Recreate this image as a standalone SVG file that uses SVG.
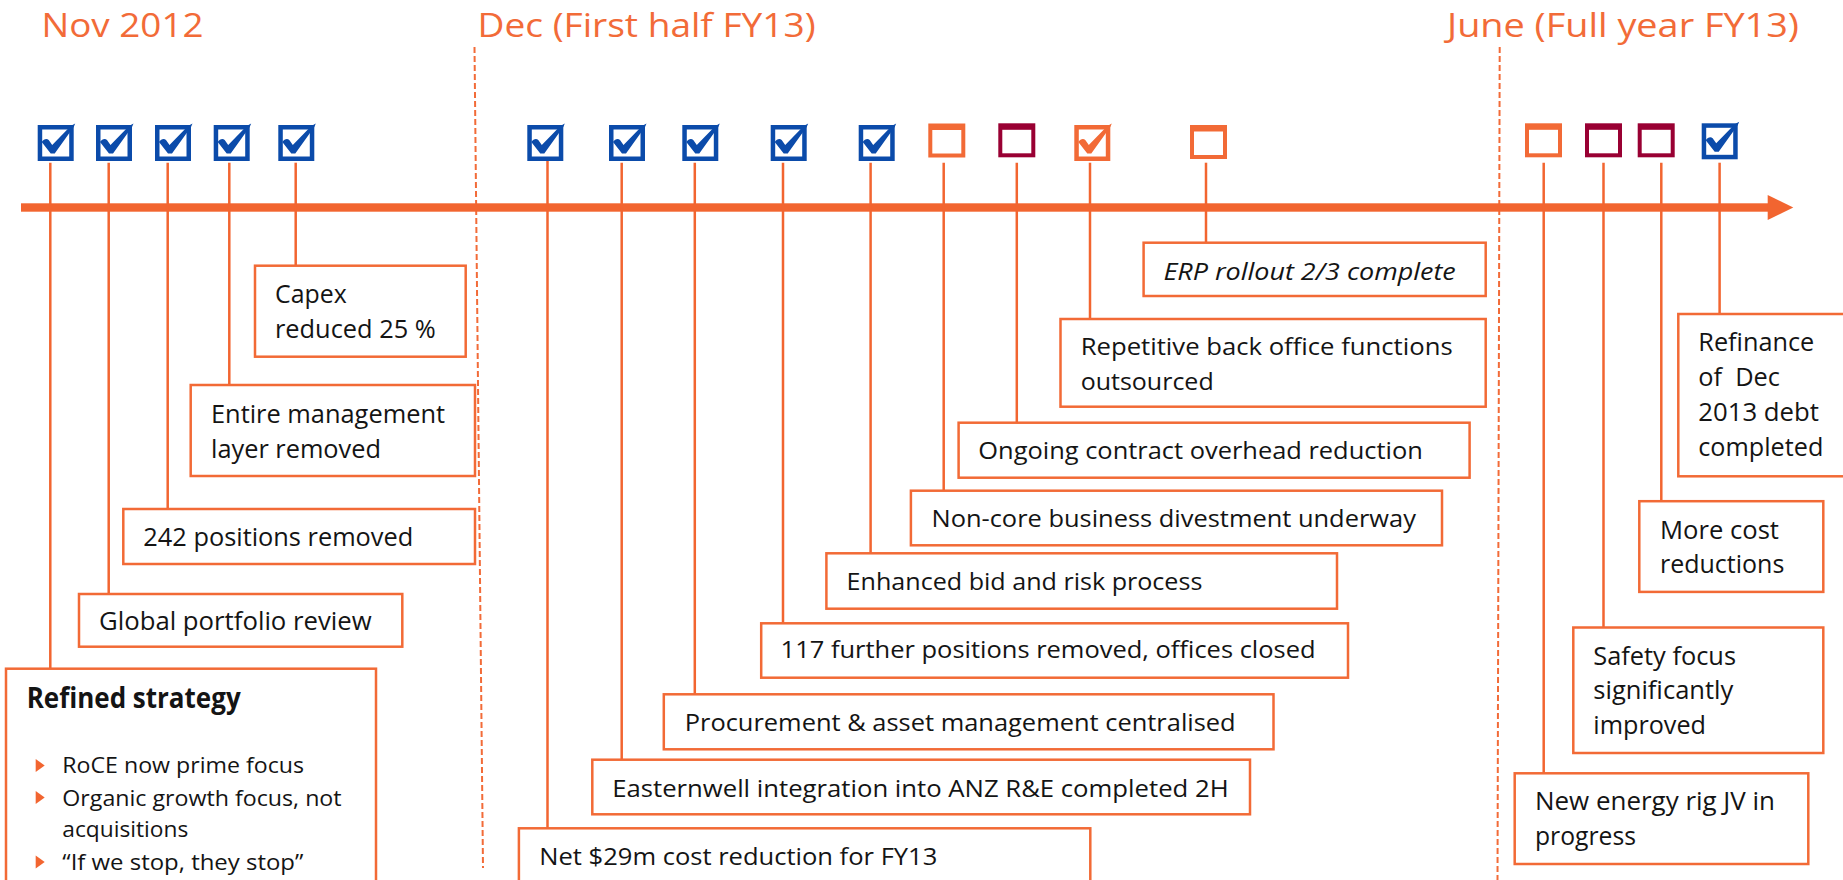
<svg xmlns="http://www.w3.org/2000/svg" xmlns:xlink="http://www.w3.org/1999/xlink" width="1843" height="880" viewBox="0 0 1843 880">
  <style>
    .title { font-family: "Open Sans", "Liberation Sans", sans-serif; font-size: 33px; fill: #F26B38; }
    .lbl { font-family: "Open Sans", "Liberation Sans", sans-serif; fill: #141414; }
    .l { font-size: 26px; }
    .m { font-size: 23px; }
    .r { font-size: 26px; }
    .b { font-size: 21px; }
    .h { font-size: 28px; font-weight: bold; }
    .it { font-style: italic; }
    .box { fill: #fff; stroke: #F26A36; stroke-width: 2.5; }
    .conn { stroke: #F26530; stroke-width: 2.5; fill: none; }
    .dash { stroke: #F26B38; stroke-width: 2; stroke-dasharray: 6 3; fill: none; }
    .bul { fill: #F26530; }
  </style>
  <defs>
    <!-- ticked checkbox, blue -->
    <g id="chk-blue">
      <rect x="2.25" y="2.25" width="31.5" height="31.5" fill="#fff" stroke="#0B4BAA" stroke-width="4.5"/>
      <path d="M4,17 C6,14 9,13 11,15 L14.5,20 L33,1 L37.5,-1.5 L36,2 L17,28.5 L13,28.5 Z" fill="#0B4BAA"/>
    </g>
    <!-- ticked checkbox, orange -->
    <g id="chk-orange">
      <rect x="2.25" y="2.25" width="31.5" height="31.5" fill="#fff" stroke="#F26A36" stroke-width="4.5"/>
      <path d="M4,17 C6,14 9,13 11,15 L14.5,20 L33,1 L37.5,-1.5 L36,2 L17,28.5 L13,28.5 Z" fill="#F26A36"/>
    </g>
    <!-- open checkbox, orange -->
    <g id="box-orange">
      <rect x="0" y="0" width="37" height="34" fill="#F26A36"/>
      <rect x="4" y="6.5" width="29" height="23.5" fill="#fff"/>
    </g>
    <!-- open checkbox, maroon -->
    <g id="box-maroon">
      <rect x="0" y="0" width="37" height="34" fill="#990033"/>
      <rect x="4" y="6.5" width="29" height="23.5" fill="#fff"/>
    </g>
    <path id="tri" d="M0,-6.5 L9,0 L0,6.5 Z"/>
  </defs>

  <rect width="1843" height="880" fill="#fff"/>

  <!-- period headings -->
  <g id="headings">
    <text class="title" x="41.5" y="37" textLength="162" lengthAdjust="spacingAndGlyphs">Nov 2012</text>
    <text class="title" x="477.6" y="37" textLength="338" lengthAdjust="spacingAndGlyphs">Dec (First half FY13)</text>
    <text class="title" x="1447" y="37" textLength="352" lengthAdjust="spacingAndGlyphs">June (Full year FY13)</text>
  </g>

  <!-- period dividers -->
  <g id="dividers">
    <line class="dash" x1="474.5" y1="47" x2="483" y2="868"/>
    <line class="dash" x1="1499.7" y1="47" x2="1497.5" y2="880"/>
  </g>

  <!-- timeline axis -->
  <g id="axis">
    <rect x="21" y="203.3" width="1748" height="8.4" fill="#F26530"/>
    <polygon points="1767.7,195 1793.3,207.5 1767.7,220" fill="#F26530"/>
  </g>

  <!-- connectors from milestones to labels -->
  <g id="connectors">
    <line class="conn" x1="50.3" y1="162.7" x2="50.3" y2="668.7"/>
    <line class="conn" x1="108.7" y1="162.7" x2="108.7" y2="594"/>
    <line class="conn" x1="167.7" y1="162.7" x2="167.7" y2="509"/>
    <line class="conn" x1="229.3" y1="162.7" x2="229.3" y2="385"/>
    <line class="conn" x1="295.7" y1="162.7" x2="295.7" y2="265.7"/>
    <line class="conn" x1="547.5" y1="153" x2="547.5" y2="828.3"/>
    <line class="conn" x1="621.7" y1="162.7" x2="621.7" y2="759.7"/>
    <line class="conn" x1="694.8" y1="162.7" x2="694.8" y2="694.3"/>
    <line class="conn" x1="783" y1="162.7" x2="783" y2="623.3"/>
    <line class="conn" x1="870.6" y1="162.7" x2="870.6" y2="553.3"/>
    <line class="conn" x1="943.7" y1="162.7" x2="943.7" y2="490.7"/>
    <line class="conn" x1="1016.8" y1="162.7" x2="1016.8" y2="422.7"/>
    <line class="conn" x1="1090" y1="162.7" x2="1090" y2="319"/>
    <line class="conn" x1="1206" y1="162.7" x2="1206" y2="242.7"/>
    <line class="conn" x1="1543.7" y1="162.7" x2="1543.7" y2="773.3"/>
    <line class="conn" x1="1603.5" y1="162.7" x2="1603.5" y2="627.5"/>
    <line class="conn" x1="1661.3" y1="162.7" x2="1661.3" y2="501.2"/>
    <line class="conn" x1="1719.6" y1="162.7" x2="1719.6" y2="314"/>
  </g>

  <!-- milestone status checkboxes -->
  <g id="markers">
    <use xlink:href="#chk-blue" x="37.7" y="125"/>
    <use xlink:href="#chk-blue" x="96" y="125"/>
    <use xlink:href="#chk-blue" x="155" y="125"/>
    <use xlink:href="#chk-blue" x="213.7" y="125"/>
    <use xlink:href="#chk-blue" x="278.3" y="125"/>
    <use xlink:href="#chk-blue" x="527.3" y="125"/>
    <use xlink:href="#chk-blue" x="609" y="125"/>
    <use xlink:href="#chk-blue" x="682.3" y="125"/>
    <use xlink:href="#chk-blue" x="770.7" y="125"/>
    <use xlink:href="#chk-blue" x="858.7" y="125"/>
    <use xlink:href="#box-orange" x="928.3" y="123.5"/>
    <use xlink:href="#box-maroon" x="998.3" y="123.3"/>
    <use xlink:href="#chk-orange" x="1074.3" y="125"/>
    <use xlink:href="#box-orange" x="1190" y="125"/>
    <use xlink:href="#box-orange" x="1525" y="123.3"/>
    <use xlink:href="#box-maroon" x="1585" y="123.3"/>
    <use xlink:href="#box-maroon" x="1637.7" y="123.3"/>
    <use xlink:href="#chk-blue" x="1701.7" y="123.3"/>
  </g>

  <!-- Nov 2012 labels -->
  <g id="n-strategy">
    <rect class="box" x="6" y="668.7" width="370" height="230"/>
    <text class="lbl h" x="26.7" y="708.3" textLength="214" lengthAdjust="spacingAndGlyphs">Refined strategy</text>
    <use xlink:href="#tri" class="bul" x="35.7" y="765.5"/>
    <text class="lbl b" x="62.3" y="773.3" textLength="241.7" lengthAdjust="spacingAndGlyphs">RoCE now prime focus</text>
    <use xlink:href="#tri" class="bul" x="35.7" y="797.5"/>
    <text class="lbl b" x="62.3" y="805.7" textLength="279.3" lengthAdjust="spacingAndGlyphs">Organic growth focus, not</text>
    <text class="lbl b" x="62.3" y="836.7" textLength="126" lengthAdjust="spacingAndGlyphs">acquisitions</text>
    <use xlink:href="#tri" class="bul" x="35.7" y="862"/>
    <text class="lbl b" x="62.3" y="870" textLength="241" lengthAdjust="spacingAndGlyphs">“If we stop, they stop”</text>
  </g>
  <g id="n-portfolio">
    <rect class="box" x="79" y="594" width="323.3" height="52.7"/>
    <text class="lbl l" x="99" y="630" textLength="272.7" lengthAdjust="spacingAndGlyphs">Global portfolio review</text>
  </g>
  <g id="n-positions">
    <rect class="box" x="123.3" y="509" width="351.7" height="55"/>
    <text class="lbl l" x="143.3" y="545.7" textLength="270" lengthAdjust="spacingAndGlyphs">242 positions removed</text>
  </g>
  <g id="n-layer">
    <rect class="box" x="190.7" y="385" width="284.3" height="91"/>
    <text class="lbl l" x="211" y="422.7" textLength="234" lengthAdjust="spacingAndGlyphs">Entire management</text>
    <text class="lbl l" x="211" y="458.3" textLength="170" lengthAdjust="spacingAndGlyphs">layer removed</text>
  </g>
  <g id="n-capex">
    <rect class="box" x="255" y="265.7" width="210.7" height="91"/>
    <text class="lbl l" x="275" y="303.3" textLength="71.7" lengthAdjust="spacingAndGlyphs">Capex</text>
    <text class="lbl l" x="275" y="338.3" textLength="160.7" lengthAdjust="spacingAndGlyphs">reduced 25 %</text>
  </g>

  <!-- first half FY13 labels -->
  <g id="n-net">
    <rect class="box" x="518.9" y="828.3" width="571.4" height="70"/>
    <text class="lbl m" x="539.3" y="865" textLength="398" lengthAdjust="spacingAndGlyphs">Net $29m cost reduction for FY13</text>
  </g>
  <g id="n-easternwell">
    <rect class="box" x="592.3" y="759.7" width="657.7" height="54.6"/>
    <text class="lbl m" x="612.2" y="796.7" textLength="616.4" lengthAdjust="spacingAndGlyphs">Easternwell integration into ANZ R&amp;E completed 2H</text>
  </g>
  <g id="n-procurement">
    <rect class="box" x="663.8" y="694.3" width="609.7" height="55"/>
    <text class="lbl m" x="684.7" y="730.7" textLength="551" lengthAdjust="spacingAndGlyphs">Procurement &amp; asset management centralised</text>
  </g>
  <g id="n-offices">
    <rect class="box" x="761.2" y="623.3" width="586.8" height="54.4"/>
    <text class="lbl m" x="780.6" y="658.3" textLength="535" lengthAdjust="spacingAndGlyphs">117 further positions removed, offices closed</text>
  </g>
  <g id="n-bid">
    <rect class="box" x="826.4" y="553.3" width="510.6" height="55.4"/>
    <text class="lbl m" x="846.6" y="590" textLength="355.8" lengthAdjust="spacingAndGlyphs">Enhanced bid and risk process</text>
  </g>
  <g id="n-divest">
    <rect class="box" x="910.9" y="490.7" width="531.1" height="54.6"/>
    <text class="lbl m" x="931.5" y="526.7" textLength="484.4" lengthAdjust="spacingAndGlyphs">Non-core business divestment underway</text>
  </g>
  <g id="n-overhead">
    <rect class="box" x="958.6" y="422.7" width="511" height="55"/>
    <text class="lbl m" x="978.3" y="459" textLength="444.5" lengthAdjust="spacingAndGlyphs">Ongoing contract overhead reduction</text>
  </g>
  <g id="n-backoffice">
    <rect class="box" x="1060.5" y="319" width="425.2" height="87.7"/>
    <text class="lbl m" x="1080.7" y="355" textLength="372" lengthAdjust="spacingAndGlyphs">Repetitive back office functions</text>
    <text class="lbl m" x="1080.7" y="390" textLength="133" lengthAdjust="spacingAndGlyphs">outsourced</text>
  </g>
  <g id="n-erp">
    <rect class="box" x="1143.6" y="242.7" width="342.1" height="53.3"/>
    <text class="lbl m it" x="1163.4" y="280" textLength="292.4" lengthAdjust="spacingAndGlyphs">ERP rollout 2/3 complete</text>
  </g>

  <!-- full year FY13 labels -->
  <g id="n-rig">
    <rect class="box" x="1514.7" y="773.3" width="293.6" height="90.7"/>
    <text class="lbl r" x="1535" y="810.4" textLength="240" lengthAdjust="spacingAndGlyphs">New energy rig JV in</text>
    <text class="lbl r" x="1535" y="844.8" textLength="101" lengthAdjust="spacingAndGlyphs">progress</text>
  </g>
  <g id="n-safety">
    <rect class="box" x="1573.3" y="627.5" width="250" height="125.5"/>
    <text class="lbl r" x="1593.3" y="665" textLength="142.7" lengthAdjust="spacingAndGlyphs">Safety focus</text>
    <text class="lbl r" x="1593.3" y="699.4" textLength="140" lengthAdjust="spacingAndGlyphs">significantly</text>
    <text class="lbl r" x="1593.3" y="733.8" textLength="112.7" lengthAdjust="spacingAndGlyphs">improved</text>
  </g>
  <g id="n-cost">
    <rect class="box" x="1639.3" y="501.2" width="184" height="90.7"/>
    <text class="lbl r" x="1660" y="538.7" textLength="119" lengthAdjust="spacingAndGlyphs">More cost</text>
    <text class="lbl r" x="1660" y="573.1" textLength="124.3" lengthAdjust="spacingAndGlyphs">reductions</text>
  </g>
  <g id="n-refinance">
    <rect class="box" x="1678.3" y="314" width="170" height="162.3"/>
    <text class="lbl r" x="1698.3" y="351" textLength="116" lengthAdjust="spacingAndGlyphs">Refinance</text>
    <text class="lbl r" x="1698.3" y="386.3" textLength="81.7" lengthAdjust="spacingAndGlyphs">of&#160; Dec</text>
    <text class="lbl r" x="1698.3" y="421.2" textLength="120.7" lengthAdjust="spacingAndGlyphs">2013 debt</text>
    <text class="lbl r" x="1698.3" y="456.4" textLength="125" lengthAdjust="spacingAndGlyphs">completed</text>
  </g>
</svg>
